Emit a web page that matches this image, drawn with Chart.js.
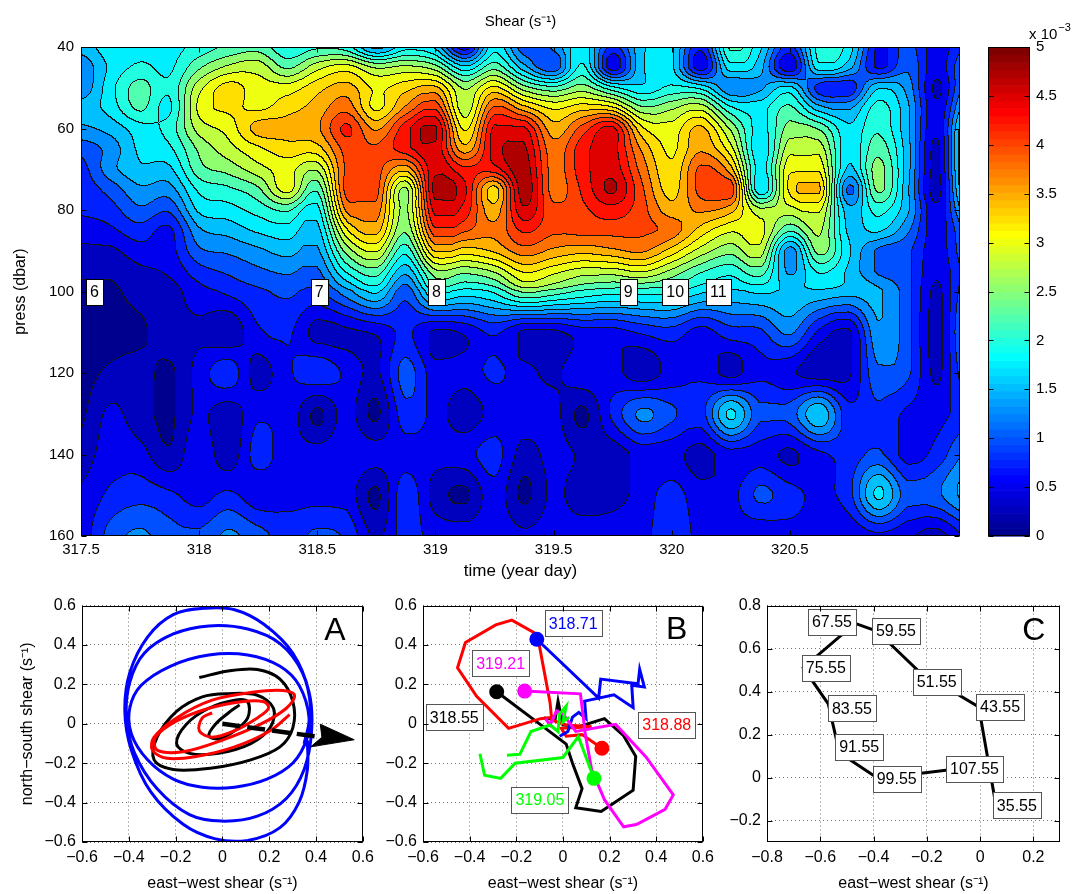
<!DOCTYPE html>
<html>
<head>
<meta charset="utf-8">
<title>Shear</title>
<script src="https://cdn.jsdelivr.net/npm/chart.js@4.4.1/dist/chart.umd.min.js"></script>
<style>
  body { margin: 0; background: #fff; width: 1081px; height: 894px; overflow: hidden; }
  canvas { position: absolute; }
</style>
</head>
<body>
<canvas id="shearChart" width="975" height="590" style="left:0;top:0"></canvas>
<canvas id="barChart" width="106" height="590" style="left:975px;top:0"></canvas>
<canvas id="chartA" width="380" height="304" style="left:0;top:590px"></canvas>
<canvas id="chartB" width="340" height="304" style="left:380px;top:590px"></canvas>
<canvas id="chartC" width="361" height="304" style="left:720px;top:590px"></canvas>
<script>
// ---- top panel: shear (x 1e-3 s^-1) on a time / pressure grid
const times = [317.5, 317.625, 317.75, 317.875, 318, 318.125, 318.25, 318.375, 318.5, 318.625,
  318.75, 318.875, 319, 319.125, 319.25, 319.375, 319.5, 319.625, 319.75, 319.875,
  320, 320.125, 320.25, 320.375, 320.5, 320.625, 320.75, 320.875, 321, 321.125, 321.25]
const pressures = [40, 45, 50, 55, 60, 65, 70, 75, 80, 85, 90, 95, 100, 110, 120, 130, 140, 150, 160]
const shear = [
  [1.6,1.9,1.9,1.9,2.1,2.3,2.4,2.05,2.2,2.1,1.4,1.9,1.7,0.6,1.9,1.1,1.3,1.9,0.9,1.7,1.8,0.8,2.3,1.8,0.9,2.1,1.9,0.7,1.1,0.6,1.05],
  [1.3,1.8,2.05,1.95,2.45,2.8,2.9,2.45,2.9,3.1,2.7,2.8,2.6,1.8,2.4,1.6,1.05,2.05,0.6,1.7,1.8,0.6,1.9,1.6,0.55,1.9,1.6,0.7,1.2,0.6,1.3],
  [1.3,1.9,2.35,2.05,2.9,3.35,3.1,3.1,3.4,3.6,3.2,3.4,3.55,2.7,3.3,2.6,2.3,2.6,2.05,1.8,2.05,1.9,1.3,1.45,1.8,0.9,0.8,1.7,1.4,0.45,1.4],
  [1.6,1.85,2.3,1.95,3.05,3.3,3.2,3.4,3.6,3.9,3.2,3.8,4.2,2.85,4.05,3.6,3.2,3.4,3.3,2.55,2.7,2.9,2.05,1.9,2.3,1.6,1.45,2.1,1.55,0.55,1.7],
  [1.45,1.6,1.9,2.1,2.85,3.1,3.6,3.6,3.7,4.3,3.7,4.4,4.8,3.2,4.55,4.55,3.6,4.1,4.55,3.3,3.1,3.55,2.7,1.9,2.6,2.45,1.8,2.2,1.55,0.55,2.1],
  [1.1,1.35,1.8,1.95,2.55,2.9,3.2,3.4,3.4,4.1,4.05,4.4,4.7,3.6,4.6,4.8,3.85,4.4,4.6,3.7,3.2,3.7,3.1,1.8,2.9,2.9,1.8,2.4,1.6,0.45,2.2],
  [0.9,1.4,1.7,1.7,2.4,2.6,2.9,3.1,2.8,4.05,4.1,3.6,4.7,4.3,4.4,4.9,3.9,4.4,4.65,3.9,3.3,4.05,3.6,1.9,3.2,3.2,1.7,2.6,1.6,0.45,2.2],
  [0.85,1.1,1.45,1.4,2.05,2.2,2.45,3.1,2.3,4.1,4.1,2.7,4.85,4.55,3.4,4.9,3.9,4.3,4.8,4.05,3.4,4.1,4.2,1.8,3.3,3.55,1.2,2.55,1.55,0.4,2.1],
  [0.8,0.9,1.2,1.05,1.8,1.9,2.1,2.3,1.9,3.8,3.9,2.7,4.6,4.4,3.6,4.7,4.05,4.2,4.4,4.1,3.6,3.8,3.6,2.8,2.9,3.05,1.6,2.1,1.55,0.55,1.7],
  [0.6,0.7,0.9,0.7,1.45,1.6,1.8,1.9,1.65,3.2,3.6,2.55,4.2,4.05,3.8,4.3,4.05,4.1,4.1,4.05,3.9,3.4,3.05,3.1,2.3,2.8,1.7,1.8,1.3,0.6,1.3],
  [0.45,0.45,0.65,0.65,1.2,1.3,1.45,1.6,1.45,2.6,3.05,2.1,3.55,3.4,3.55,3.9,3.7,3.6,3.7,3.8,3.4,2.9,2.6,2.9,1.4,2.6,1.8,1.2,1.05,0.6,1.2],
  [0.3,0.3,0.45,0.55,0.9,1.05,1.2,1.3,1.2,2.05,2.4,1.6,2.7,2.6,2.8,3.3,3.1,2.9,2.9,3.05,2.7,2.3,2.1,2.4,1.45,2.05,1.7,1.2,1.05,0.55,1.1],
  [0.2,0.2,0.35,0.4,0.65,0.8,0.95,1.05,0.95,1.4,1.8,1.1,2.05,1.9,2.05,2.55,2.4,2.2,2.1,2.1,2.05,1.8,1.7,1.8,1.7,1.7,1.6,1.55,1.1,0.45,1.2],
  [0.15,0.15,0.2,0.4,0.45,0.3,0.7,0.8,0.4,0.45,0.55,0.8,0.45,0.55,0.8,0.45,0.45,0.65,0.65,0.8,0.9,0.65,0.9,0.95,1.3,0.7,0.45,1.45,1.1,0.4,1.4],
  [0.15,0.3,0.35,0.2,0.6,0.9,0.4,0.7,0.9,0.7,0.45,1.1,0.6,0.6,0.8,0.6,0.45,0.7,0.6,0.35,0.6,0.7,0.4,0.7,0.55,0.35,0.45,1.2,1.05,0.45,1.2],
  [0.2,0.55,0.35,0.2,0.55,0.35,0.7,0.7,0.2,0.6,0.2,0.9,0.65,0.35,0.6,0.65,0.6,0.2,0.8,1.3,1.05,0.9,1.8,1.05,1.1,1.7,0.85,0.95,0.7,0.65,0.9],
  [0.35,0.65,0.6,0.3,0.7,0.35,0.85,0.6,0.6,0.7,0.6,0.65,0.6,0.65,0.85,0.4,0.6,0.45,0.35,0.6,0.6,0.4,0.65,0.65,0.45,0.7,0.85,1.05,0.65,0.85,1.3],
  [0.55,0.8,0.9,0.8,0.65,0.8,0.6,0.65,0.65,0.65,0.2,0.9,0.4,0.2,0.65,0.2,0.55,0.35,0.4,0.6,0.85,0.6,0.65,1.05,0.85,0.7,0.9,1.8,1.1,1.2,1.6],
  [0.6,1.1,1.3,1.1,1.05,1.3,1.1,0.9,1.05,0.95,0.45,0.85,0.65,0.65,0.7,0.55,0.65,0.65,0.65,0.7,0.85,0.7,0.65,0.55,0.65,0.65,0.55,0.7,0.55,0.4,0.8]
]
const levelStep = 0.25
const levelCount = 20
const timeTicks = [317.5, 318, 318.5, 319, 319.5, 320, 320.5]
const pressTicks = [40, 60, 80, 100, 120, 140, 160]
const barTicks = [0, 0.5, 1, 1.5, 2, 2.5, 3, 3.5, 4, 4.5, 5]
const eventTimes = [317.557, 318.508, 319.004, 319.816, 320.015, 320.197]
const eventNames = ['6', '7', '8', '9', '10', '11']
const eventPress = 100

// ---- panel A: hodographs
const blueA = [[0.349,-0.101],[0.370,0.030],[0.328,0.194],[0.246,0.292],[0.108,0.349],[-0.058,0.349],[-0.223,0.292],[-0.348,0.194],[-0.396,0.079],[-0.389,-0.052],[-0.320,-0.183],[-0.210,-0.281],[-0.086,-0.322],[0.052,-0.322],[0.190,-0.281],[0.301,-0.199],[0.363,-0.068],[0.377,0.079],[0.342,0.259],[0.246,0.407],[0.108,0.481],[-0.058,0.497],[-0.210,0.456],[-0.334,0.358],[-0.396,0.210],[-0.410,0.030],[-0.375,-0.150],[-0.279,-0.330],[-0.141,-0.461],[-0.003,-0.494],[0.149,-0.469],[0.273,-0.379],[0.349,-0.232],[0.381,-0.035],[0.370,0.161],[0.301,0.358],[0.177,0.505],[0.052,0.579],[-0.072,0.587],[-0.210,0.554],[-0.320,0.440],[-0.396,0.259],[-0.417,0.063],[-0.389,-0.134],[-0.306,-0.346],[-0.168,-0.510],[-0.030,-0.584],[0.108,-0.592],[0.246,-0.527],[0.328,-0.396],[0.363,-0.232],[0.363,-0.084]]
const blackA = [[-0.099,0.235],[0.025,0.268],[0.149,0.276],[0.246,0.227],[0.301,0.112],[0.301,-0.019],[0.246,-0.117],[0.121,-0.183],[-0.044,-0.224],[-0.210,-0.232],[-0.292,-0.183],[-0.279,-0.068],[-0.196,0.063],[-0.086,0.137],[0.025,0.153],[0.149,0.145],[0.218,0.079],[0.204,-0.019],[0.121,-0.101],[-0.017,-0.150],[-0.141,-0.150],[-0.196,-0.101],[-0.154,-0.002],[-0.058,0.079],[0.052,0.120],[0.108,0.112],[0.108,0.030],[0.052,-0.035],[-0.017,-0.076],[-0.058,-0.060],[-0.030,-0.002],[0.025,0.055],[0.073,0.096]]
const redA = [[-0.044,0.055],[-0.086,0.030],[-0.099,-0.035],[-0.044,-0.068],[0.052,-0.035],[0.149,0.030],[0.197,0.079],[0.177,0.112],[0.080,0.112],[-0.058,0.079],[-0.196,0.014],[-0.286,-0.068],[-0.279,-0.134],[-0.168,-0.142],[-0.003,-0.084],[0.163,-0.002],[0.273,0.079],[0.308,0.145],[0.259,0.169],[0.135,0.161],[-0.044,0.120],[-0.196,0.030],[-0.292,-0.068],[-0.299,-0.134],[-0.237,-0.175],[-0.113,-0.166],[0.052,-0.117],[0.204,-0.035],[0.287,0.047]]
const arrowA = [[0, 0], [0.404, -0.065]]
const arrowHeadA = [[0.418,-0.002],[0.563,-0.081],[0.377,-0.117],[0.425,-0.068],[0.418,-0.002]]

// ---- panel B: shear tracks, first point = start time
const blackB = [[-0.284,0.163],[-0.075,-0.023],[0.014,-0.103],[0.041,-0.2],[0.082,-0.329],[0.055,-0.426],[0.164,-0.445],[0.301,-0.337],[0.312,-0.165],[0.26,-0.06],[0.178,0.026],[0.068,-0.015],[0.0,-0.006],[-0.021,0.115],[-0.034,0.02],[-0.082,0.03]]
const blueB = [[-0.112,0.429],[0.153,0.131],[0.162,0.227],[0.322,0.203],[0.329,0.276],[0.349,0.187],[0.295,0.195],[0.301,0.082],[0.219,0.147],[0.093,0.115],[0.099,0.026],[0.068,0.058],[0.041,0.034],[0.021,-0.039],[-0.014,-0.063]]
const redB = [[0.167,-0.124],[0.082,-0.055],[0.014,-0.063],[-0.007,-0.023],[0.123,-0.015],[0.014,-0.006],[-0.048,0.018],[-0.055,0.106],[-0.110,0.453],[-0.219,0.526],[-0.288,0.502],[-0.418,0.413],[-0.452,0.284],[-0.370,0.139],[-0.233,-0.023],[-0.096,0.026],[-0.034,0.034]]
const greenB = [[0.133,-0.277],[0.066,-0.065],[0.0,-0.171],[-0.205,-0.2],[-0.267,-0.277],[-0.336,-0.261],[-0.356,-0.152],null,[-0.240,-0.160],[-0.185,-0.155],[-0.137,-0.039],[-0.055,-0.006],[-0.021,-0.039],[-0.014,0.05],[0.014,0.09],[0.0,0.01],[0.027,0.034]]
const magentaB = [[-0.164,0.166],[0.075,0.152],[0.096,-0.055],[0.123,-0.232],[0.178,-0.385],[0.260,-0.523],[0.315,-0.511],[0.438,-0.434],[0.473,-0.361],[0.356,-0.168],[0.226,-0.003],[0.055,-0.039],[0.0,0.05],[-0.027,0.066],[-0.055,-0.006],[-0.075,0.026]]
const startNamesB = ['318.55', '318.71', '318.88', '319.05', '319.21']
const startLabelEW = [-0.466, 0.044, 0.445, -0.099, -0.267]
const startLabelNS = [0.034, 0.51, -0.006, -0.385, 0.308]

// ---- panel C: mean shear by depth
const depthNames = ['35.55', '43.55', '51.55', '59.55', '67.55', '75.55', '83.55', '91.55', '99.55', '107.55']
const depthEW = [0.054, -0.005, -0.234, -0.388, -0.469, -0.664, -0.570, -0.528, -0.383, -0.113]
const depthNS = [-0.090, 0.328, 0.499, 0.682, 0.717, 0.511, 0.343, 0.115, -0.004, 0.036]
const depthLabelEW = [0.138, 0.075, -0.163, -0.316, -0.556, -0.579, -0.481, -0.454, -0.313, -0.021]
const depthLabelNS = [-0.129, 0.33, 0.445, 0.682, 0.724, 0.510, 0.322, 0.142, -0.007, 0.042]

const panelTicks = [-0.6, -0.4, -0.2, 0, 0.2, 0.4, 0.6]
const cTicksX = [-0.8, -0.6, -0.4, -0.2, 0, 0.2]
const cTicksY = [-0.2, 0, 0.2, 0.4, 0.6, 0.8]

const FONT = "'Liberation Sans', Arial, Helvetica, sans-serif"
Chart.defaults.font.family = FONT
Chart.defaults.font.size = 15
Chart.defaults.color = '#000'

// matlab jet(64), i = 1..64
function jet64(i) {
  const r = i < 25 ? 0 : i <= 40 ? (i - 24) / 16 : i <= 56 ? 1 : (72 - i) / 16
  const g = i < 9 ? 0 : i <= 24 ? (i - 8) / 16 : i <= 40 ? 1 : i <= 55 ? (56 - i) / 16 : 0
  const b = i <= 8 ? (i + 8) / 16 : i <= 24 ? 1 : i <= 39 ? (40 - i) / 16 : 0
  return [Math.round(r * 255), Math.round(g * 255), Math.round(b * 255)]
}
const bandColors = []
for (let k = 0; k < levelCount; k++) bandColors.push(jet64(Math.floor(k * levelStep / 5 * 64) + 1))

function locate(arr, v) {
  let k = 0
  while (k < arr.length - 2 && v > arr[k + 1]) k++
  const f = (v - arr[k]) / (arr[k + 1] - arr[k])
  return [k, Math.max(0, Math.min(1, f))]
}

// catmull-rom, kept inside the range of its four values
function cubic(p0, p1, p2, p3, t) {
  const v = p1 + 0.5 * t * (p2 - p0 + t * (2 * p0 - 5 * p1 + 4 * p2 - p3 + t * (3 * (p1 - p2) + p3 - p0)))
  const lo = Math.min(p0, p1, p2, p3), hi = Math.max(p0, p1, p2, p3)
  return v < lo ? lo : v > hi ? hi : v
}

function fmt(v) {
  if (Math.abs(v) < 1e-9) return '0'
  return v.toFixed(1).replace('-', '\u2212')
}

const contourPlugin = {
  id: 'contour',
  beforeDatasetsDraw(chart) {
    const {ctx, chartArea: a, scales: {x, y}} = chart
    const left = Math.round(a.left), top = Math.round(a.top)
    const w = Math.round(a.right) - left, h = Math.round(a.bottom) - top
    const nR = shear.length, nC = times.length
    // interpolate along time for every grid row
    const horiz = shear.map(row => {
      const out = new Float32Array(w)
      for (let i = 0; i < w; i++) {
        const [c, f] = locate(times, x.getValueForPixel(left + i + 0.5))
        out[i] = cubic(row[Math.max(c - 1, 0)], row[c], row[c + 1], row[Math.min(c + 2, nC - 1)], f)
      }
      return out
    })
    const band = new Int16Array(w * h)
    for (let j = 0; j < h; j++) {
      const [r, f] = locate(pressures, y.getValueForPixel(top + j + 0.5))
      const h0 = horiz[Math.max(r - 1, 0)], h1 = horiz[r], h2 = horiz[r + 1], h3 = horiz[Math.min(r + 2, nR - 1)]
      for (let i = 0; i < w; i++) {
        const v = cubic(h0[i], h1[i], h2[i], h3[i], f)
        band[j * w + i] = Math.max(0, Math.min(levelCount - 1, Math.floor(v / levelStep)))
      }
    }
    const img = ctx.createImageData(w, h)
    const d = img.data
    for (let j = 0; j < h; j++) {
      for (let i = 0; i < w; i++) {
        const k = j * w + i, b = band[k]
        const edge = (i < w - 1 && band[k + 1] !== b) || (j < h - 1 && band[k + w] !== b)
        const col = edge ? [20, 20, 20] : bandColors[b]
        d[k * 4] = col[0]; d[k * 4 + 1] = col[1]; d[k * 4 + 2] = col[2]; d[k * 4 + 3] = 255
      }
    }
    const off = document.createElement('canvas')
    off.width = w; off.height = h
    off.getContext('2d').putImageData(img, 0, 0)
    ctx.drawImage(off, left, top)
  },
  afterDraw(chart) {
    const {ctx, chartArea: a} = chart
    ctx.save()
    ctx.fillStyle = '#000'
    ctx.font = '15px ' + FONT
    ctx.textAlign = 'center'
    ctx.textBaseline = 'middle'
    ctx.fillText('Shear (s\u207B\u00B9)', (a.left + a.right) / 2, 22)
    ctx.restore()
  }
}

const colorbarPlugin = {
  id: 'colorbar',
  beforeDatasetsDraw(chart) {
    const {ctx, chartArea: a, scales: {y}} = chart
    for (let i = 1; i <= 64; i++) {
      const y0 = y.getPixelForValue((i - 1) * 5 / 64), y1 = y.getPixelForValue(i * 5 / 64)
      ctx.fillStyle = 'rgb(' + jet64(i).join(',') + ')'
      ctx.fillRect(a.left, y1, a.right - a.left, y0 - y1 + 0.6)
    }
  },
  afterDraw(chart) {
    const {ctx, chartArea: a} = chart
    ctx.save()
    ctx.fillStyle = '#000'
    ctx.font = '15px ' + FONT
    ctx.textBaseline = 'alphabetic'
    ctx.fillText('x 10', a.right - 1, 39)
    const w = ctx.measureText('x 10').width
    ctx.font = '11px ' + FONT
    ctx.fillText('\u22123', a.right - 1 + w + 1, 31)
    ctx.restore()
  }
}

const framePlugin = {
  id: 'frame',
  afterDraw(chart) {
    const {ctx, chartArea: a, scales} = chart
    ctx.save()
    ctx.strokeStyle = '#000'
    ctx.lineWidth = 1
    const L = Math.round(a.left) + 0.5, R = Math.round(a.right) - 0.5
    const T = Math.round(a.top) + 0.5, B = Math.round(a.bottom) - 0.5
    ctx.strokeRect(L, T, R - L, B - T)
    ctx.beginPath()
    Object.values(scales).forEach(s => {
      if (!s.options.display) return
      s.ticks.forEach(t => {
        const p = Math.round(s.getPixelForValue(t.value)) + 0.5
        if (s.isHorizontal()) { ctx.moveTo(p, B); ctx.lineTo(p, B - 5); ctx.moveTo(p, T); ctx.lineTo(p, T + 5) }
        else { ctx.moveTo(L, p); ctx.lineTo(L + 5, p); ctx.moveTo(R, p); ctx.lineTo(R - 5, p) }
      })
    })
    ctx.stroke()
    ctx.restore()
  }
}

// text boxes placed in data coordinates
function labelPlugin(items, size, border) {
  return {
    id: 'boxLabels',
    afterDatasetsDraw(chart) {
      const {ctx, scales: {x, y}} = chart
      ctx.save()
      ctx.textAlign = 'center'
      ctx.textBaseline = 'middle'
      items.forEach(it => {
        const px = x.getPixelForValue(it.x), py = y.getPixelForValue(it.y)
        if (it.big) {
          ctx.font = it.big + 'px ' + FONT
          ctx.fillStyle = '#000'
          ctx.fillText(it.text, px, py)
          return
        }
        ctx.font = size + 'px ' + FONT
        const w = Math.round(ctx.measureText(it.text).width + 8), h = size + 10
        const bx = Math.round(px - w / 2), by = Math.round(py - h / 2)
        ctx.fillStyle = '#fff'
        ctx.fillRect(bx, by, w, h)
        ctx.strokeStyle = border
        ctx.lineWidth = 1
        ctx.strokeRect(bx + 0.5, by + 0.5, w, h)
        ctx.fillStyle = it.color || '#000'
        ctx.fillText(it.text, px, py + 1)
      })
      ctx.restore()
    }
  }
}

function pts(arr) {
  return arr.map(p => p ? {x: p[0], y: p[1]} : {x: null, y: null})
}
function lineSet(arr, color, width, extra) {
  return Object.assign({
    data: pts(arr), showLine: true, borderColor: color, backgroundColor: color,
    borderWidth: width, pointRadius: 0, fill: false, tension: 0, spanGaps: false
  }, extra || {})
}
function fixedTicks(list) {
  return s => { s.ticks = list.map(v => ({value: v})) }
}

// ---------- top contour chart
const shearLabels = eventTimes.map((t, i) => ({x: t, y: eventPress, text: eventNames[i]}))
new Chart(document.getElementById('shearChart'), {
  type: 'scatter',
  data: {datasets: []},
  options: {
    responsive: false,
    animation: false,
    layout: {padding: {left: 0, right: 15, top: 47, bottom: 0}},
    plugins: {legend: {display: false}, tooltip: {enabled: false}},
    scales: {
      x: {
        type: 'linear', min: 317.5, max: 321.22,
        afterBuildTicks: fixedTicks(timeTicks),
        afterFit: s => { s.height = 54 },
        ticks: {callback: v => String(v), padding: 5, maxRotation: 0, autoSkip: false},
        grid: {display: false, drawTicks: false},
        border: {display: false},
        title: {display: true, text: 'time (year day)', font: {size: 17}, padding: {top: 0, bottom: 8}}
      },
      y: {
        type: 'linear', reverse: true, min: 40, max: 160,
        afterBuildTicks: fixedTicks(pressTicks),
        afterFit: s => { s.width = 81 },
        ticks: {padding: 7, autoSkip: false},
        grid: {display: false, drawTicks: false},
        border: {display: false},
        title: {display: true, text: 'press (dbar)', font: {size: 16}, padding: {top: 11, bottom: 0}}
      }
    }
  },
  plugins: [contourPlugin, labelPlugin(shearLabels, 16, '#000'), framePlugin]
})

// ---------- colour bar
new Chart(document.getElementById('barChart'), {
  type: 'scatter',
  data: {datasets: []},
  options: {
    responsive: false,
    animation: false,
    layout: {padding: {left: 13, right: 0, top: 47, bottom: 54}},
    plugins: {legend: {display: false}, tooltip: {enabled: false}},
    scales: {
      x: {type: 'linear', display: false, min: 0, max: 1},
      y: {
        type: 'linear', position: 'right', min: 0, max: 5,
        afterBuildTicks: fixedTicks(barTicks),
        afterFit: s => { s.width = 51 },
        ticks: {padding: 6, autoSkip: false, callback: v => String(v)},
        grid: {display: false, drawTicks: false},
        border: {display: false}
      }
    }
  },
  plugins: [colorbarPlugin, framePlugin]
})

// ---------- bottom panels
function panelOptions(xr, xt, yr, yt, yWidth, padRight, yTitle) {
  return {
    responsive: false,
    animation: false,
    layout: {padding: {left: 0, right: padRight, top: 6, bottom: 0}},
    plugins: {legend: {display: false}, tooltip: {enabled: false}},
    scales: {
      x: {
        type: 'linear', min: xr[0], max: xr[1],
        afterBuildTicks: fixedTicks(xt),
        afterFit: s => { s.height = 52 },
        ticks: {callback: fmt, padding: 6, font: {size: 16}, maxRotation: 0, autoSkip: false},
        grid: {color: 'rgba(0,0,0,0.55)', drawTicks: false},
        border: {display: false, dash: [1, 3]},
        title: {display: true, text: 'east\u2212west shear (s\u207B\u00B9)', font: {size: 16}, padding: {top: 0, bottom: 1}}
      },
      y: {
        type: 'linear', min: yr[0], max: yr[1],
        afterBuildTicks: fixedTicks(yt),
        afterFit: s => { s.width = yWidth },
        ticks: {callback: fmt, padding: 6, font: {size: 16}, autoSkip: false},
        grid: {color: 'rgba(0,0,0,0.55)', drawTicks: false},
        border: {display: false, dash: [1, 3]},
        title: yTitle
          ? {display: true, text: yTitle, font: {size: 16}, padding: {top: 18, bottom: 0}}
          : {display: false}
      }
    }
  }
}

new Chart(document.getElementById('chartA'), {
  type: 'scatter',
  data: {
    datasets: [
      lineSet(arrowHeadA, '#000', 1, {fill: 'shape', backgroundColor: '#000'}),
      lineSet(arrowA, '#000', 4.5, {borderDash: [18, 7]}),
      lineSet(redA, '#ff0000', 3, {tension: 0.35}),
      lineSet(blackA, '#000', 3, {tension: 0.35}),
      lineSet(blueA, '#0000ff', 3, {tension: 0.35})
    ]
  },
  options: panelOptions([-0.6, 0.6], panelTicks, [-0.6, 0.6], panelTicks, 82, 8, 'north\u2212south shear (s\u207B\u00B9)'),
  plugins: [labelPlugin([{x: 0.481, y: 0.47, text: 'A', big: 32}], 16, '#555'), framePlugin]
})

const startDot = {pointRadius: c => c.dataIndex === 0 ? 6 : 0}
const bLabels = startNamesB.map((n, i) => ({
  x: startLabelEW[i], y: startLabelNS[i], text: n,
  color: ['#000000', '#0000ff', '#ff0000', '#00ff00', '#ff00ff'][i]
}))
bLabels.push({x: 0.488, y: 0.476, text: 'B', big: 32})
new Chart(document.getElementById('chartB'), {
  type: 'scatter',
  data: {
    datasets: [
      lineSet(greenB, '#00ff00', 3, startDot),
      lineSet(magentaB, '#ff00ff', 3, startDot),
      lineSet(blueB, '#0000ff', 3, startDot),
      lineSet(redB, '#ff0000', 3, startDot),
      lineSet(blackB, '#000', 3, startDot)
    ]
  },
  options: panelOptions([-0.6, 0.6], panelTicks, [-0.6, 0.6], panelTicks, 43, 3, null),
  plugins: [labelPlugin(bLabels, 16, '#555'), framePlugin]
})

const cLabels = depthNames.map((n, i) => ({x: depthLabelEW[i], y: depthLabelNS[i], text: n}))
cLabels.push({x: 0.202, y: 0.68, text: 'C', big: 32})
new Chart(document.getElementById('chartC'), {
  type: 'scatter',
  data: {
    datasets: [
      lineSet(depthEW.map((v, i) => [v, depthNS[i]]), '#000', 3)
    ]
  },
  options: panelOptions([-0.8, 0.3], cTicksX, [-0.3, 0.8], cTicksY, 47, 21, null),
  plugins: [labelPlugin(cLabels, 16, '#555'), framePlugin]
})
</script>
</body>
</html>
